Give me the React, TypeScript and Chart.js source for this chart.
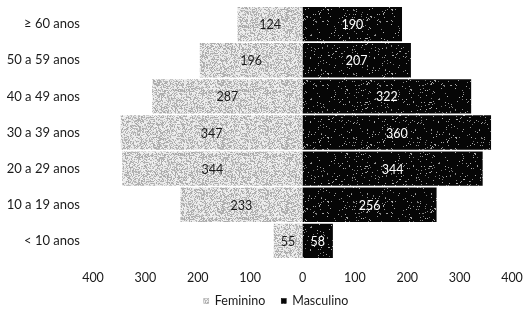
import React, { useEffect, useRef } from "react";
import { Chart, registerables } from "chart.js";

Chart.register(...registerables);

const categories = ["≥ 60 anos", "50 a 59 anos", "40 a 49 anos", "30 a 39 anos", "20 a 29 anos", "10 a 19 anos", "< 10 anos"];
const feminino = [124, 196, 287, 347, 344, 233, 55];
const masculino = [190, 207, 322, 360, 344, 256, 58];
const seriesNames = ["Feminino", "Masculino"];
const FONT = "Lato, 'Open Sans', sans-serif";

function hash(x: number, y: number, s: number) {
  let h = (x * 374761393 + y * 668265263 + s * 2147483647) | 0;
  h = ((h ^ (h >>> 13)) * 1274126177) | 0;
  h = h ^ (h >>> 16);
  return ((h >>> 0) % 1000) / 1000;
}

function makePattern(kind: "light" | "dark") {
  const c = document.createElement("canvas");
  c.width = 64;
  c.height = 64;
  const ctx = c.getContext("2d")!;
  const img = ctx.createImageData(64, 64);
  for (let y = 0; y < 64; y++) {
    for (let x = 0; x < 64; x++) {
      const r = hash(x, y, kind === "light" ? 1 : 2);
      let v: number;
      if (kind === "light") {
        v = r < 0.45 ? 165 + Math.floor(r * 60) : 205 + Math.floor(r * 40);
      } else {
        v = r < 0.05 ? 110 + Math.floor(r * 1500) : 6;
      }
      const i = (y * 64 + x) * 4;
      img.data[i] = v;
      img.data[i + 1] = v;
      img.data[i + 2] = v;
      img.data[i + 3] = 255;
    }
  }
  ctx.putImageData(img, 0, 0);
  const main = document.createElement("canvas").getContext("2d")!;
  return main.createPattern(c, "repeat")!;
}

const labelPlugin = {
  id: "barLabels",
  afterDatasetsDraw(chart: any) {
    const ctx = chart.ctx;
    ctx.save();
    ctx.font = `12.5px ${FONT}`;
    ctx.textAlign = "center";
    ctx.textBaseline = "middle";
    chart.data.datasets.forEach((ds: any, di: number) => {
      const meta = chart.getDatasetMeta(di);
      meta.data.forEach((bar: any, i: number) => {
        const v = Math.abs(ds.data[i]);
        const cx = (bar.x + bar.base) / 2;
        ctx.fillStyle = di === 0 ? "#1a1a1a" : "#ffffff";
        ctx.fillText(String(v), cx, bar.y + 1);
      });
    });
    ctx.restore();
  },
};

const legendPlugin = {
  id: "customLegend",
  afterDraw(chart: any) {
    const ctx = chart.ctx;
    ctx.save();
    ctx.font = `12.5px ${FONT}`;
    ctx.textBaseline = "middle";
    ctx.textAlign = "left";
    const box = 5;
    const gap = 6;
    const spacing = 16;
    const widths = chart.data.datasets.map((ds: any) => ctx.measureText(ds.label).width);
    const total = widths.reduce((a: number, w: number) => a + box + gap + w, 0) + spacing * (widths.length - 1);
    let x = chart.width / 2 + 12 - total / 2;
    const y = chart.height - 12;
    chart.data.datasets.forEach((ds: any, i: number) => {
      ctx.fillStyle = ds.backgroundColor;
      ctx.fillRect(x, y - box / 2, box, box);
      ctx.strokeStyle = i === 0 ? "#a0a0a0" : "#000";
      ctx.lineWidth = 0.5;
      ctx.strokeRect(x, y - box / 2, box, box);
      x += box + gap;
      ctx.fillStyle = "#1a1a1a";
      ctx.fillText(ds.label, x, y);
      x += widths[i] + spacing;
    });
    ctx.restore();
  },
};

export default function App() {
  const ref = useRef<HTMLCanvasElement>(null);
  useEffect(() => {
    const light = makePattern("light");
    const dark = makePattern("dark");
    const chart = new Chart(ref.current!, {
      type: "bar",
      data: {
        labels: categories,
        datasets: [
          {
            label: seriesNames[0],
            data: feminino.map((v) => -v),
            backgroundColor: light as any,
            borderWidth: 0,
            categoryPercentage: 0.95,
            barPercentage: 1,
          },
          {
            label: seriesNames[1],
            data: masculino,
            backgroundColor: dark as any,
            borderWidth: 0,
            categoryPercentage: 0.95,
            barPercentage: 1,
          },
        ],
      },
      options: {
        indexAxis: "y",
        animation: false,
        responsive: true,
        maintainAspectRatio: false,
        layout: { padding: { top: 6, right: 16, left: 0, bottom: 30 } },
        scales: {
          x: {
            stacked: true,
            min: -400,
            max: 400,
            grid: { display: false },
            border: { display: false },
            ticks: {
              stepSize: 100,
              callback: (v: any) => String(Math.abs(Number(v))),
              color: "#1a1a1a",
              font: { family: FONT, size: 12.5 },
              padding: 3,
              maxRotation: 0,
            },
            afterFit: (scale: any) => {
              scale.paddingLeft = 0;
              scale.paddingRight = 0;
              scale.height = 24;
            },
          },
          y: {
            stacked: true,
            grid: { display: false },
            border: { display: false },
            ticks: {
              color: "#1a1a1a",
              font: { family: FONT, size: 13 },
              padding: 5,
            },
            afterFit: (scale: any) => {
              scale.width = 93;
              scale.paddingTop = 0;
              scale.paddingBottom = 0;
            },
          },
        },
        plugins: {
          legend: { display: false },
          tooltip: { enabled: false },
        },
      },
      plugins: [labelPlugin, legendPlugin],
    });
    return () => chart.destroy();
  }, []);
  return (
    <div style={{ position: "fixed", left: 0, top: 0, width: 528, height: 313 }}>
      <canvas ref={ref} />
    </div>
  );
}
